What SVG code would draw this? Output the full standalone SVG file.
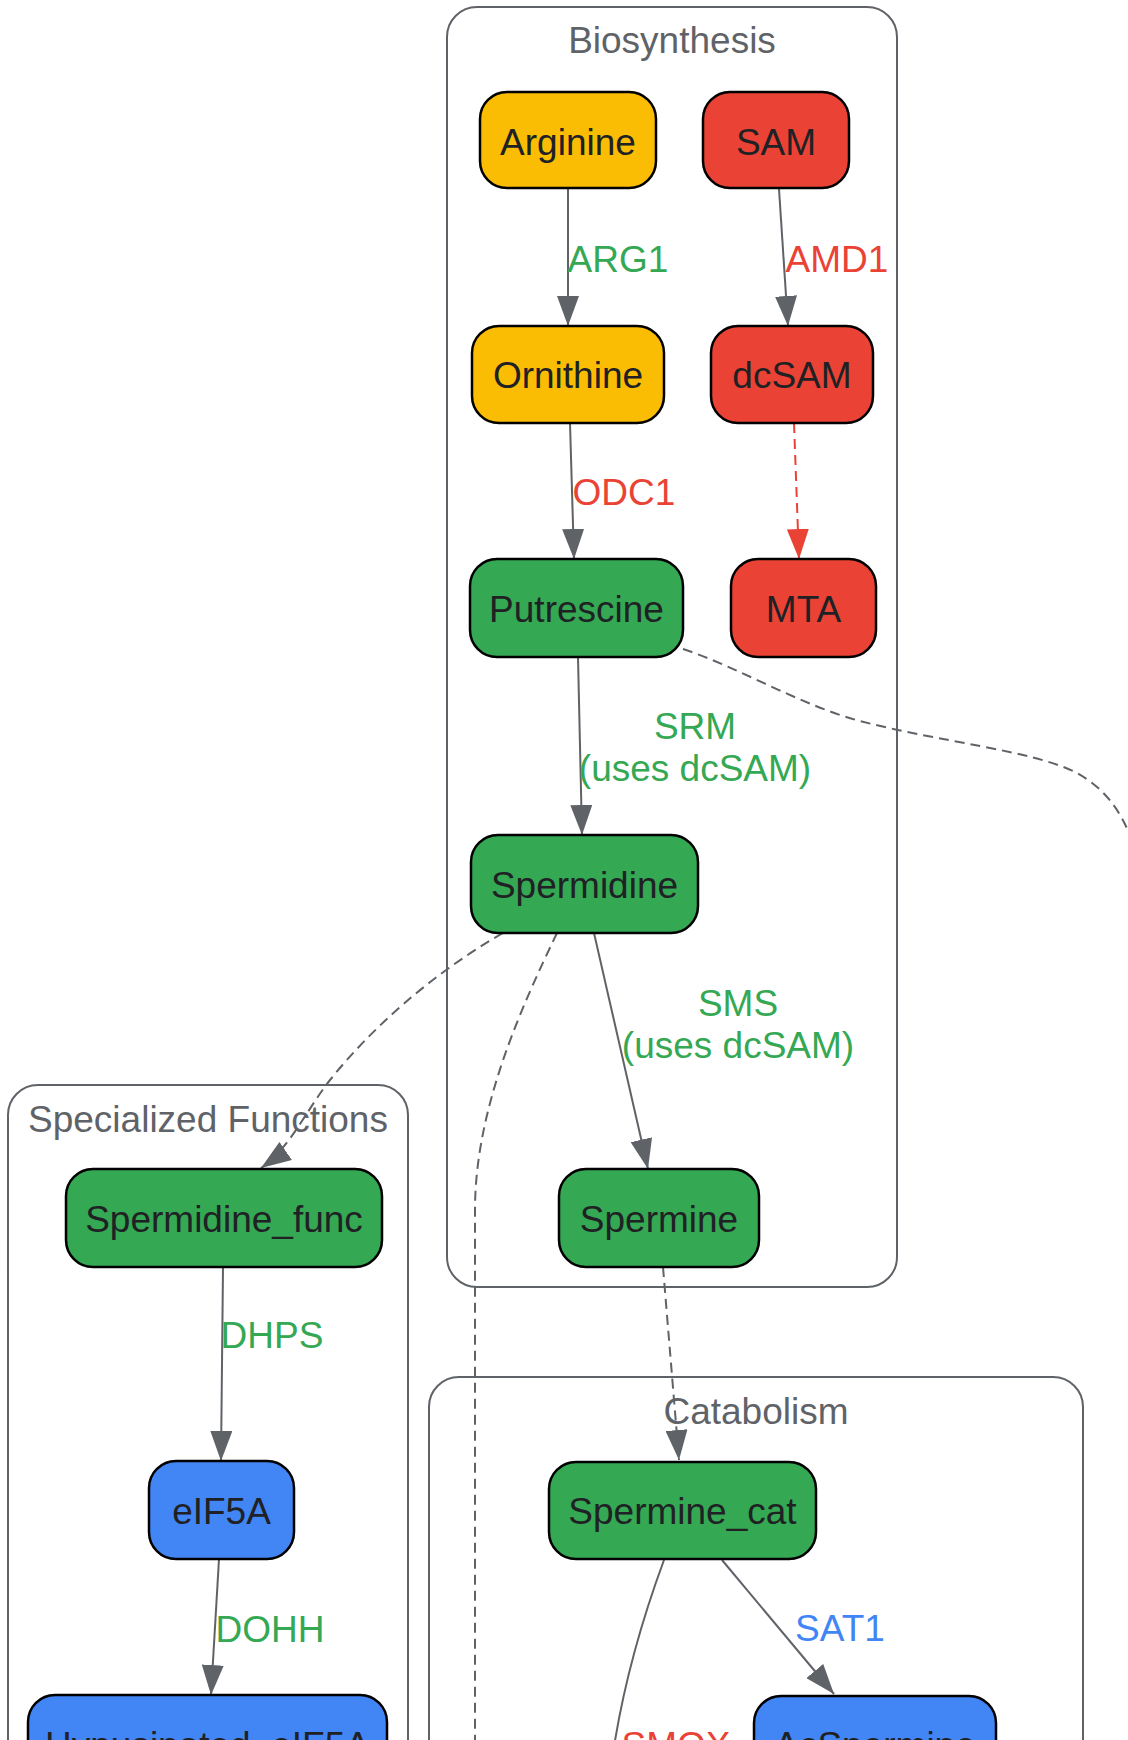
<svg xmlns="http://www.w3.org/2000/svg" width="1128" height="1740" viewBox="0 0 1128 1740">
<style>
text{font-family:"Liberation Sans",Arial,sans-serif;font-size:37px}
.cl rect{fill:#ffffff;stroke:#5f6368;stroke-width:2}
.cl text{fill:#5f6368;text-anchor:middle}
.node rect{stroke:#000000;stroke-width:2.5}
.node text{fill:#202124;text-anchor:middle}
.y rect{fill:#fbbc04}.r rect{fill:#ea4335}.g rect{fill:#34a853}.b rect{fill:#4285f4}
.e{fill:none;stroke:#5f6368;stroke-width:2}
.d{stroke-dasharray:10 6}
.er{fill:none;stroke:#ea4335;stroke-width:2;stroke-dasharray:10 6}
.lbl{text-anchor:middle}
.lg{fill:#34a853}.lr{fill:#ea4335}.lb{fill:#4285f4}
</style>
<defs>
<marker id="ag" markerUnits="userSpaceOnUse" markerWidth="30" markerHeight="22" refX="30" refY="11" orient="auto"><path d="M0,0 L30,11 L0,22 z" fill="#5f6368"/></marker>
<marker id="ar" markerUnits="userSpaceOnUse" markerWidth="30" markerHeight="22" refX="30" refY="11" orient="auto"><path d="M0,0 L30,11 L0,22 z" fill="#ea4335"/></marker>
</defs>

<g id="cluster-biosynthesis" class="cl"><rect x="447" y="7" width="450" height="1280" rx="30"/><text x="672" y="53">Biosynthesis</text></g>
<g id="cluster-specialized" class="cl"><rect x="8" y="1085" width="400" height="700" rx="30"/><text x="208" y="1132">Specialized Functions</text></g>
<g id="cluster-catabolism" class="cl"><rect x="429" y="1377" width="654" height="420" rx="30"/><text x="756" y="1424">Catabolism</text></g>

<g id="edges">
<path class="e" d="M568,189 L568,326" marker-end="url(#ag)"/>
<path class="e" d="M779,189 L788,326" marker-end="url(#ag)"/>
<path class="e" d="M570,423 L574,559" marker-end="url(#ag)"/>
<path class="er" d="M794,423 L799,559" marker-end="url(#ar)"/>
<path class="e" d="M578,657 L582,835" marker-end="url(#ag)"/>
<path class="e d" d="M683,649 C740,668 800,705 860,721 C940,742 1030,750 1075,772 C1105,788 1120,810 1132,840"/>
<path class="e" d="M594,933 L648,1169" marker-end="url(#ag)"/>
<path class="e d" d="M503,933 C430,975 370,1030 330,1080 C305,1112 290,1148 261,1168" marker-end="url(#ag)"/>
<path class="e d" d="M557,933 C520,1010 475,1110 475,1210 L475,1745"/>
<path class="e d" d="M663,1267 L679,1460" marker-end="url(#ag)"/>
<path class="e" d="M223,1267 L221,1461" marker-end="url(#ag)"/>
<path class="e" d="M219,1559 L211,1695" marker-end="url(#ag)"/>
<path class="e" d="M722,1560 L834,1694" marker-end="url(#ag)"/>
<path class="e" d="M664,1560 C640,1625 622,1690 612,1760"/>
<text class="lbl lg" x="618" y="272">ARG1</text>
<text class="lbl lr" x="837" y="272">AMD1</text>
<text class="lbl lr" x="624" y="505">ODC1</text>
<text class="lbl lg" x="695" y="739">SRM</text>
<text class="lbl lg" x="695" y="781">(uses dcSAM)</text>
<text class="lbl lg" x="738" y="1016">SMS</text>
<text class="lbl lg" x="738" y="1058">(uses dcSAM)</text>
<text class="lbl lg" x="272" y="1348">DHPS</text>
<text class="lbl lg" x="270" y="1642">DOHH</text>
<text class="lbl lb" x="840" y="1641">SAT1</text>
<text class="lbl lr" x="676" y="1758">SMOX</text>
</g>

<g id="node-arginine" class="node y"><rect x="480" y="92" width="176" height="96" rx="27"/><text x="568" y="155">Arginine</text></g>
<g id="node-sam" class="node r"><rect x="703" y="92" width="146" height="96" rx="27"/><text x="776" y="155">SAM</text></g>
<g id="node-ornithine" class="node y"><rect x="472" y="326" width="192" height="97" rx="27"/><text x="568" y="388">Ornithine</text></g>
<g id="node-dcsam" class="node r"><rect x="711" y="326" width="162" height="97" rx="27"/><text x="792" y="388">dcSAM</text></g>
<g id="node-putrescine" class="node g"><rect x="470" y="559" width="213" height="98" rx="27"/><text x="576.5" y="622">Putrescine</text></g>
<g id="node-mta" class="node r"><rect x="731" y="559" width="145" height="98" rx="27"/><text x="803.5" y="622">MTA</text></g>
<g id="node-spermidine" class="node g"><rect x="471" y="835" width="227" height="98" rx="27"/><text x="584.5" y="898">Spermidine</text></g>
<g id="node-spermine" class="node g"><rect x="559" y="1169" width="200" height="98" rx="27"/><text x="659" y="1232">Spermine</text></g>
<g id="node-spermidine-func" class="node g"><rect x="66" y="1169" width="316" height="98" rx="27"/><text x="224" y="1232">Spermidine_func</text></g>
<g id="node-eif5a" class="node b"><rect x="149" y="1461" width="145" height="98" rx="27"/><text x="221.5" y="1524">eIF5A</text></g>
<g id="node-hypusinated" class="node b"><rect x="28" y="1695" width="359" height="98" rx="27"/><text x="207.5" y="1758">Hypusinated_eIF5A</text></g>
<g id="node-spermine-cat" class="node g"><rect x="549" y="1462" width="267" height="97" rx="27"/><text x="682.5" y="1524">Spermine_cat</text></g>
<g id="node-acspermine" class="node b"><rect x="754" y="1696" width="242" height="98" rx="27"/><text x="875" y="1758">AcSpermine</text></g>
</svg>
